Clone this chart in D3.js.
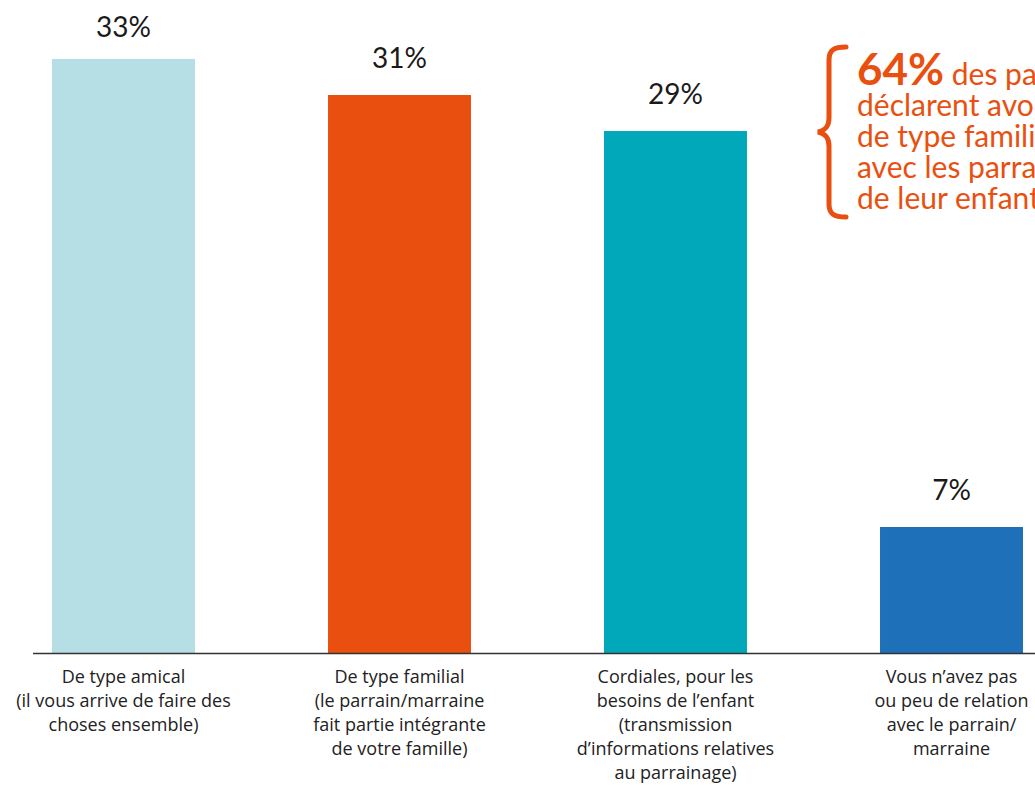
<!DOCTYPE html>
<html>
<head>
<meta charset="utf-8">
<script src="https://cdn.jsdelivr.net/npm/d3@7"></script>
<style>
  html, body { margin: 0; padding: 0; background: #fff; }
  svg { display: block; font-family: Lato, 'Open Sans', sans-serif; }
</style>
</head>
<body>
<div id="chart"></div>
<script>
const categories = ['amical', 'familial', 'cordiales', 'aucune']
const values = [33, 31, 29, 7]
const colors = ['#b6dfe5', '#e9500f', '#00a8ba', '#1e71b8']
const labels = [
  ['De type amical', '(il vous arrive de faire des', 'choses ensemble)'],
  ['De type familial', '(le parrain/marraine', 'fait partie intégrante', 'de votre famille)'],
  ['Cordiales, pour les', 'besoins de l’enfant', '(transmission', 'd’informations relatives', 'au parrainage)'],
  ['Vous n’avez pas', 'ou peu de relation', 'avec le parrain/', 'marraine']
]
const noteLines = ['déclarent avoir des relations', 'de type familial', 'avec les parrains/marraines', 'de leur enfant']

const width = 1035
const height = 785
const baseY = 653

const svg = d3.select('#chart').append('svg')
  .attr('width', width)
  .attr('height', height)

const x = d3.scaleBand()
  .domain(categories)
  .range([-14.5, 1089.5])
  .paddingInner(0.482)
  .paddingOuter(0.241)

const y = d3.scaleLinear()
  .domain([0, 33])
  .range([baseY, 59])

svg.append('g')
  .selectAll('rect')
  .data(categories)
  .join('rect')
  .attr('x', d => x(d))
  .attr('y', (d, i) => y(values[i]))
  .attr('width', x.bandwidth())
  .attr('height', (d, i) => baseY - y(values[i]))
  .attr('fill', (d, i) => colors[i])

// baseline
svg.append('line')
  .attr('x1', 33)
  .attr('x2', width)
  .attr('y1', baseY + 0.5)
  .attr('y2', baseY + 0.5)
  .attr('stroke', '#333')
  .attr('stroke-width', 1.5)

svg.append('g')
  .selectAll('text')
  .data(categories)
  .join('text')
  .attr('x', d => x(d) + x.bandwidth() / 2)
  .attr('y', (d, i) => Math.max(y(values[i]) - 27, 37))
  .attr('text-anchor', 'middle')
  .attr('font-size', 28)
  .attr('fill', '#1a1a1a')
  .text((d, i) => values[i] + '%')

const lab = svg.append('g')
  .selectAll('text')
  .data(categories)
  .join('text')
  .attr('text-anchor', 'middle')
  .attr('font-family', "'Open Sans', sans-serif")
  .attr('font-size', 18)
  .attr('fill', '#222')

lab.selectAll('tspan')
  .data((d, i) => labels[i].map(t => ({ t, cx: x(d) + x.bandwidth() / 2 })))
  .join('tspan')
  .attr('x', d => d.cx)
  .attr('y', (d, j) => baseY + 30 + j * 24)
  .text(d => d.t)

// annotation brace
const orange = '#e9500f'
svg.append('path')
  .attr('d', 'M846,47 C834,47 829,50 829,60 L829,118 C829,126 826,130 818,132 C826,134 829,138 829,146 L829,204 C829,214 834,217 846,217')
  .attr('fill', 'none')
  .attr('stroke', orange)
  .attr('stroke-width', 5)
  .attr('stroke-linecap', 'round')

const note = svg.append('text')
  .attr('fill', orange)
  .attr('font-size', 30)

note.append('tspan')
  .attr('x', 857)
  .attr('y', 85)
  .attr('font-size', 44)
  .attr('font-weight', 'bold')
  .text('64%')
note.append('tspan')
  .text(' des parents')

note.selectAll('tspan.l')
  .data(noteLines)
  .join('tspan')
  .attr('class', 'l')
  .attr('x', 857)
  .attr('y', (d, i) => 116 + i * 31)
  .text(d => d)
</script>
</body>
</html>
